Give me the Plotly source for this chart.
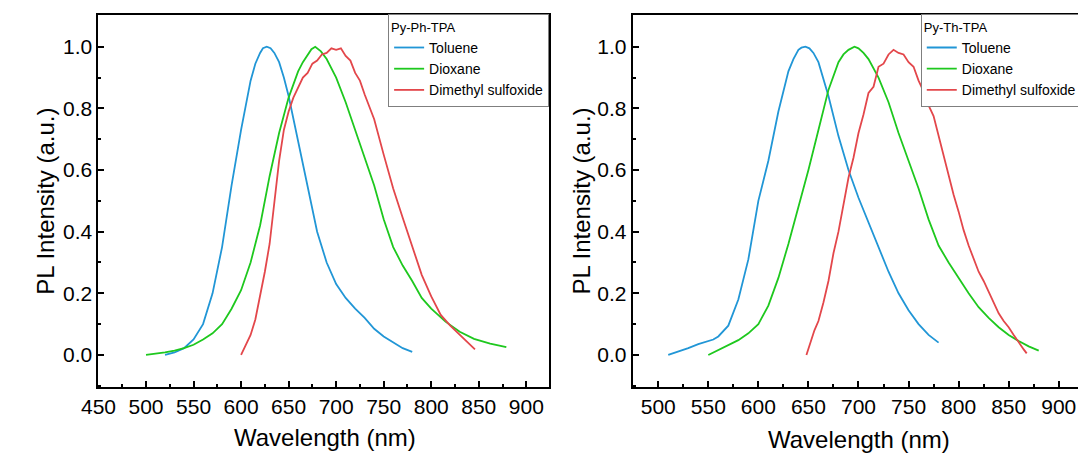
import plotly.graph_objects as go

# Py-Ph-TPA (left panel)
ph_tol_wl = [520, 530, 540, 550, 560, 570, 580, 590, 600, 610, 615, 620, 623, 627, 631, 635, 640, 645,
             650, 660, 670, 680, 690, 700, 710, 720, 730, 740, 750, 760, 770, 780]
ph_tol = [0.0, 0.008, 0.022, 0.05, 0.1, 0.2, 0.35, 0.55, 0.73, 0.89, 0.945, 0.98, 0.995, 1.0, 0.995,
          0.98, 0.95, 0.9, 0.84, 0.69, 0.54, 0.4, 0.3, 0.23, 0.185, 0.15, 0.12, 0.085, 0.06, 0.04,
          0.022, 0.01]

ph_diox_wl = [500, 510, 520, 530, 540, 550, 560, 570, 580, 590, 600, 610, 620, 630, 640, 650, 660, 665,
              670, 674, 678, 684, 690, 700, 710, 720, 730, 740, 750, 760, 770, 780, 790, 800, 815, 830,
              845, 862, 879]
ph_diox = [0.0, 0.003, 0.008, 0.014, 0.022, 0.033, 0.05, 0.07, 0.1, 0.15, 0.21, 0.3, 0.42, 0.58, 0.72,
           0.835, 0.92, 0.95, 0.975, 0.992, 1.0, 0.985, 0.96, 0.9, 0.82, 0.73, 0.64, 0.55, 0.44, 0.35,
           0.29, 0.24, 0.185, 0.15, 0.108, 0.075, 0.052, 0.037, 0.025]

ph_dmso_wl = [600, 605, 610, 615, 620, 625, 630, 635, 640, 645, 650, 655, 660, 665, 670, 675, 680, 685,
              690, 695, 700, 705, 710, 715, 720, 725, 730, 740, 750, 760, 770, 780, 790, 800, 810, 820,
              830, 840, 846]
ph_dmso = [0.0, 0.03, 0.065, 0.115, 0.19, 0.27, 0.36, 0.5, 0.63, 0.73, 0.79, 0.835, 0.87, 0.9, 0.915,
           0.945, 0.955, 0.975, 0.98, 0.995, 0.99, 0.995, 0.97, 0.955, 0.915, 0.89, 0.845, 0.765, 0.65,
           0.54, 0.445, 0.35, 0.26, 0.19, 0.13, 0.095, 0.065, 0.035, 0.018]

# Py-Th-TPA (right panel)
th_tol_wl = [510, 520, 530, 540, 550, 555, 560, 570, 580, 590, 600, 610, 620, 630, 635, 640, 643, 647,
             651, 655, 660, 670, 680, 690, 700, 710, 720, 730, 740, 750, 760, 770, 780]
th_tol = [0.0, 0.01, 0.022, 0.035, 0.045, 0.05, 0.06, 0.095, 0.18, 0.31, 0.5, 0.63, 0.79, 0.92, 0.96,
          0.99, 0.997, 1.0, 0.995, 0.98, 0.95, 0.84, 0.71, 0.6, 0.51, 0.43, 0.35, 0.27, 0.2, 0.145,
          0.1, 0.065, 0.04]

th_diox_wl = [550, 560, 570, 580, 590, 600, 610, 620, 630, 640, 650, 660, 670, 680, 685, 690, 696, 700,
              705, 710, 720, 730, 740, 750, 760, 770, 780, 790, 800, 810, 820, 830, 840, 850, 860, 870,
              880]
th_diox = [0.0, 0.016, 0.03, 0.048, 0.07, 0.1, 0.16, 0.25, 0.36, 0.48, 0.6, 0.73, 0.86, 0.95, 0.975,
           0.99, 1.0, 0.995, 0.98, 0.96, 0.9, 0.82, 0.72, 0.63, 0.54, 0.44, 0.355, 0.3, 0.25, 0.2,
           0.155, 0.12, 0.09, 0.065, 0.045, 0.028, 0.014]

th_dmso_wl = [648, 652, 656, 660, 665, 670, 675, 680, 685, 690, 695, 700, 705, 710, 715, 720, 725, 730,
              735, 740, 745, 750, 755, 760, 765, 770, 775, 780, 785, 790, 795, 800, 805, 810, 815, 820,
              825, 830, 835, 840, 845, 850, 855, 860, 865, 868]
th_dmso = [0.0, 0.04, 0.08, 0.11, 0.17, 0.24, 0.33, 0.4, 0.49, 0.575, 0.64, 0.72, 0.78, 0.85, 0.87,
           0.935, 0.945, 0.975, 0.99, 0.98, 0.975, 0.95, 0.935, 0.89, 0.855, 0.81, 0.775, 0.71, 0.645,
           0.58, 0.52, 0.465, 0.405, 0.355, 0.315, 0.27, 0.24, 0.205, 0.17, 0.135, 0.11, 0.09, 0.065,
           0.04, 0.018, 0.005]

names = ["Toluene", "Dioxane", "Dimethyl sulfoxide"]
colors = ["#2196d6", "#1ec81e", "#e3474b"]
FONT = "Liberation Sans, Arial, sans-serif"

# the page body has an 8px margin, so the figure is made 8px smaller and
# every position below is given in window pixels and shifted by it
OX, OY = 8, 8
W, H = 1086 - OX, 456 - OY


def px(x):
    return (x - OX) / W


def py(y):
    return 1 - (y - OY) / H


fig = go.Figure()

left = [(ph_tol_wl, ph_tol), (ph_diox_wl, ph_diox), (ph_dmso_wl, ph_dmso)]
right = [(th_tol_wl, th_tol), (th_diox_wl, th_diox), (th_dmso_wl, th_dmso)]

for (x, y), nm, c in zip(left, names, colors):
    fig.add_trace(go.Scatter(x=x, y=y, mode="lines", name=nm, line=dict(color=c, width=1.8),
                             xaxis="x", yaxis="y", legend="legend"))
for (x, y), nm, c in zip(right, names, colors):
    fig.add_trace(go.Scatter(x=x, y=y, mode="lines", name=nm, line=dict(color=c, width=1.8),
                             xaxis="x2", yaxis="y2", legend="legend2"))

ydom = [py(387), py(15)]

xbase = dict(showline=True, linecolor="black", linewidth=2, mirror=True, ticks="inside",
             ticklen=6, tickwidth=1.5, tickcolor="black", dtick=50, showgrid=False, zeroline=False,
             tickfont=dict(size=21, color="black"),
             minor=dict(ticks="inside", ticklen=3, tickwidth=1.5, tickcolor="black", dtick=25))
ybase = dict(showline=True, linecolor="black", linewidth=2, mirror=True, ticks="inside",
             ticklen=6, tickwidth=1.5, tickcolor="black", dtick=0.2, tick0=0, tickformat=".1f",
             showgrid=False, zeroline=False, range=[-0.104, 1.103],
             tickfont=dict(size=21, color="black"),
             minor=dict(ticks="inside", ticklen=3, tickwidth=1.5, tickcolor="black", dtick=0.1))

legbase = dict(bgcolor="white", bordercolor="#7f7f7f", borderwidth=1, xanchor="right",
               yanchor="top", y=py(14), font=dict(size=14, color="black"),
               tracegroupgap=0, itemwidth=30)

ann = dict(xref="paper", yref="paper", showarrow=False, xanchor="center", yanchor="middle",
           font=dict(size=24, color="black"))

fig.update_layout(
    width=W, height=H,
    margin=dict(l=0, r=0, t=0, b=0),
    paper_bgcolor="white", plot_bgcolor="white",
    font=dict(family=FONT, color="black"),
    xaxis=dict(xbase, domain=[px(81.7), px(540)], range=[450, 924], anchor="y"),
    yaxis=dict(ybase, domain=ydom, anchor="x"),
    xaxis2=dict(xbase, domain=[px(625), px(1081.7)], range=[474.5, 923], tick0=500, anchor="y2"),
    yaxis2=dict(ybase, domain=ydom, anchor="x2"),
    legend=dict(legbase, x=px(540), title=dict(text="Py-Ph-TPA", font=dict(size=13))),
    legend2=dict(legbase, x=px(1081.7), title=dict(text="Py-Th-TPA", font=dict(size=13))),
    annotations=[
        dict(ann, text="Wavelength (nm)", x=px(312), y=py(437)),
        dict(ann, text="Wavelength (nm)", x=px(855), y=py(439)),
        dict(ann, text="PL Intensity (a.u.)", x=px(27), y=py(201), textangle=-90),
        dict(ann, text="PL Intensity (a.u.)", x=px(572), y=py(201), textangle=-90),
    ],
)

fig.write_html("out.html")
